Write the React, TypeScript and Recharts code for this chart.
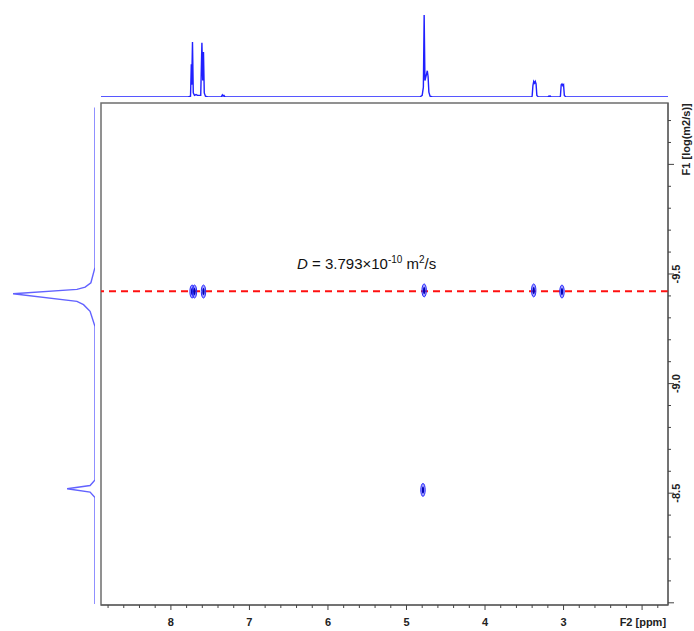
import React from "react";
import {
  Line,
  LineChart,
  ReferenceArea,
  ReferenceLine,
  Scatter,
  ScatterChart,
  XAxis,
  YAxis
} from "recharts";

// axis ranges (F2 in ppm runs right to left, F1 is log D)
const ppmDomain: [number, number] = [1.67, 8.89];
const logDomain: [number, number] = [-10.28, -7.99];

const ppmTicks = [
  8.8, 8.6, 8.4, 8.2, 8, 7.8, 7.6, 7.4, 7.2, 7, 6.8, 6.6, 6.4, 6.2, 6, 5.8, 5.6, 5.4, 5.2, 5,
  4.8, 4.6, 4.4, 4.2, 4, 3.8, 3.6, 3.4, 3.2, 3, 2.8, 2.6, 2.4, 2.2, 2, 1.8
];
const ppmMajor = [8, 7, 6, 5, 4, 3, 2];
const logTicks = [
  -10.2, -10.1, -10, -9.9, -9.8, -9.7, -9.6, -9.5, -9.4, -9.3, -9.2, -9.1, -9, -8.9, -8.8,
  -8.7, -8.6, -8.5, -8.4, -8.3, -8.2, -8.1, -8
];
const logMajor = [-10, -9.5, -9, -8.5, -8];

const diffusionD = 3.793e-10;
const logD = Math.log10(diffusionD);

// 1D proton spectrum on top
const topPpm = [
  8.89, 7.78, 7.75, 7.74, 7.735, 7.725, 7.715, 7.7, 7.68, 7.66, 7.62, 7.605, 7.595, 7.585,
  7.575, 7.56, 7.53, 7.36, 7.345, 7.335, 7.325, 7.31, 4.83, 4.8, 4.785, 4.775, 4.765, 4.745,
  4.735, 4.725, 4.715, 4.7, 4.67, 3.41, 3.4, 3.39, 3.38, 3.37, 3.36, 3.35, 3.34, 3.32, 3.2,
  3.19, 3.17, 3.16, 3.05, 3.04, 3.03, 3.02, 3.01, 3.0, 2.99, 2.97, 1.67
];
const topIntensity = [
  0, 0, 0.01, 0.4, 0.15, 0.67, 0.05, 0.02, 0.03, 0.02, 0.02, 0.66, 0.2, 0.55,
  0.05, 0.01, 0, 0, 0.025, 0.01, 0.02, 0, 0, 0.02, 0.12, 1.0, 0.2, 0.28,
  0.32, 0.25, 0.06, 0.01, 0, 0, 0.01, 0.14, 0.19, 0.17, 0.19, 0.16, 0.02, 0, 0,
  0.01, 0.012, 0, 0, 0.01, 0.15, 0.16, 0.14, 0.15, 0.02, 0, 0
];

// diffusion projection on the left
const leftLog = [
  -10.26, -9.53, -9.46, -9.44, -9.43, -9.41, -9.375, -9.36, -9.33, -9.26, -8.56, -8.535,
  -8.52, -8.505, -8.48, -7.995
];
const leftIntensity = [0, 0, 0.05, 0.12, 0.22, 1.0, 0.22, 0.14, 0.06, 0, 0, 0.06, 0.34, 0.06, 0, 0];

// DOSY cross peaks
const spotPpm = [7.73, 7.7, 7.585, 4.775, 3.38, 3.02, 4.79];
const spotLog = [-9.42, -9.42, -9.42, -9.425, -9.425, -9.42, -8.515];

const topSpectrum = topPpm.map((ppm, i) => ({ ppm, intensity: topIntensity[i] }));
const leftProjection = leftLog.map((logD, i) => ({ logD, intensity: leftIntensity[i] }));
const spots = spotPpm.map((ppm, i) => ({ ppm, logD: spotLog[i] }));

const axisFont = "Arial, 'Liberation Sans', sans-serif";

function PpmTick({ x, y, payload }: any) {
  const v = payload.value;
  const major = ppmMajor.some((m) => Math.abs(m - v) < 1e-6);
  return (
    <g>
      <line x1={x} x2={x} y1={y} y2={y + (major ? 5 : 3)} stroke="#444" strokeWidth={1} />
      {major && Math.abs(v - 2) > 1e-6 && (
        <text x={x} y={y + 21} textAnchor="middle" fontSize={11} fontWeight="bold" fill="#222" fontFamily={axisFont}>
          {v}
        </text>
      )}
      {Math.abs(v - 2) < 1e-6 && (
        <text x={x + 24} y={y + 21} textAnchor="end" fontSize={11} fontWeight="bold" fill="#222" fontFamily={axisFont}>
          F2 [ppm]
        </text>
      )}
    </g>
  );
}

function LogTick({ x, y, payload }: any) {
  const v = payload.value;
  const major = logMajor.some((m) => Math.abs(m - v) < 1e-6);
  const isTop = Math.abs(v + 10) < 1e-6;
  const isBottom = Math.abs(v + 8) < 1e-6;
  return (
    <g>
      <line x1={x} x2={x + (major ? 6 : 3)} y1={y} y2={y} stroke="#444" strokeWidth={1} />
      {major && !isTop && !isBottom && (
        <text
          x={x + 12}
          y={y}
          transform={`rotate(-90 ${x + 12} ${y})`}
          textAnchor="middle"
          fontSize={11}
          fontWeight="bold"
          fill="#222"
          fontFamily={axisFont}
        >
          {v.toFixed(1)}
        </text>
      )}
      {isTop && (
        <text
          x={x + 22}
          y={y + 11}
          transform={`rotate(-90 ${x + 22} ${y + 11})`}
          textAnchor="start"
          fontSize={11}
          fontWeight="bold"
          fill="#222"
          fontFamily={axisFont}
        >
          F1 [log(m2/s)]
        </text>
      )}
    </g>
  );
}

function Spot({ cx, cy }: any) {
  return (
    <g>
      <ellipse cx={cx} cy={cy} rx={2.2} ry={6.5} fill="#4848ff" fillOpacity={0.5} stroke="#2a2aff" strokeWidth={1} />
      <ellipse cx={cx} cy={cy} rx={1.1} ry={3.5} fill="#0000b4" />
    </g>
  );
}

export default function App() {
  return (
    <div style={{ position: "absolute", left: 0, top: 0, width: 694, height: 631, background: "#fff", overflow: "hidden" }}>
      <div style={{ position: "absolute", left: 0, top: 0 }}>
        <LineChart width={694} height={100} data={topSpectrum} margin={{ top: 15, right: 26, bottom: 3, left: 101 }}>
          <XAxis type="number" dataKey="ppm" domain={ppmDomain} reversed allowDataOverflow hide />
          <YAxis type="number" domain={[0, 1]} allowDataOverflow hide />
          <Line
            type="linear"
            dataKey="intensity"
            stroke="#2020ff"
            strokeWidth={1.4}
            dot={false}
            isAnimationActive={false}
          />
        </LineChart>
      </div>

      <div style={{ position: "absolute", left: 0, top: 0 }}>
        <LineChart
          layout="vertical"
          width={101}
          height={631}
          data={leftProjection}
          margin={{ top: 103, right: 6, bottom: 26, left: 13 }}
        >
          <XAxis type="number" domain={[0, 1]} reversed allowDataOverflow hide />
          <YAxis type="number" dataKey="logD" domain={logDomain} allowDataOverflow hide />
          <Line
            type="linear"
            dataKey="intensity"
            stroke="#6262ff"
            strokeWidth={1.4}
            dot={false}
            isAnimationActive={false}
          />
        </LineChart>
      </div>

      <div style={{ position: "absolute", left: 0, top: 0 }}>
        <ScatterChart width={694} height={631} margin={{ top: 103, right: 0, bottom: 0, left: 101 }}>
          <XAxis
            type="number"
            dataKey="ppm"
            domain={ppmDomain}
            reversed
            allowDataOverflow
            ticks={ppmTicks}
            interval={0}
            tickSize={0}
            tickMargin={0}
            tick={<PpmTick />}
            height={26}
            axisLine={{ stroke: "#555" }}
          />
          <YAxis
            type="number"
            dataKey="logD"
            orientation="right"
            domain={logDomain}
            reversed
            allowDataOverflow
            ticks={logTicks}
            interval={0}
            tickSize={0}
            tickMargin={0}
            tick={<LogTick />}
            width={26}
            axisLine={{ stroke: "#555" }}
          />
          <ReferenceArea
            x1={ppmDomain[1]}
            x2={ppmDomain[0]}
            y1={logDomain[0]}
            y2={logDomain[1]}
            fill="none"
            fillOpacity={0}
            stroke="#6e6e6e"
            strokeWidth={1.5}
            ifOverflow="visible"
          />
          <ReferenceLine y={logD} stroke="#ff1010" strokeWidth={2} strokeDasharray="7 5" />
          <Scatter data={spots} shape={<Spot />} isAnimationActive={false} />
        </ScatterChart>
      </div>

      <div
        style={{
          position: "absolute",
          left: 297,
          top: 251,
          fontFamily: axisFont,
          fontSize: 15,
          lineHeight: "17px",
          color: "#111",
          whiteSpace: "nowrap"
        }}
      >
        <i>D</i> = 3.793×10<sup style={{ fontSize: 10 }}>-10</sup> m<sup style={{ fontSize: 10 }}>2</sup>/s
      </div>
    </div>
  );
}
